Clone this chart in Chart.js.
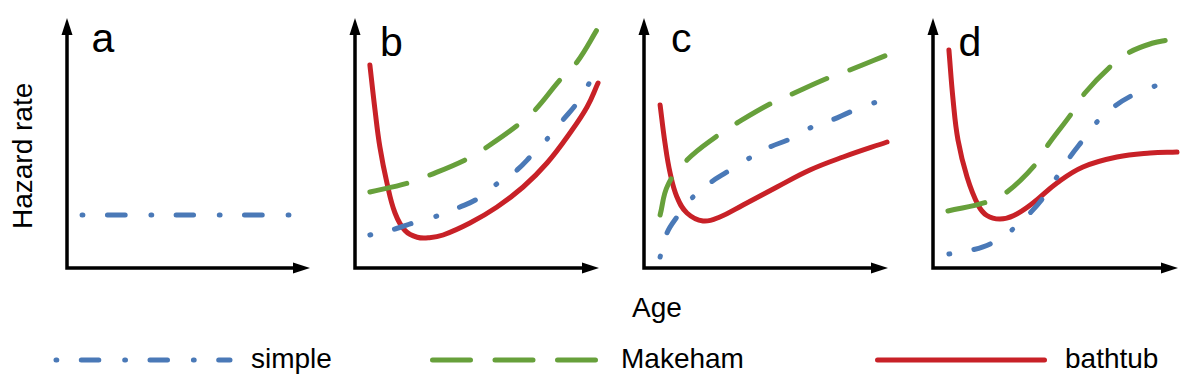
<!DOCTYPE html>
<html><head><meta charset="utf-8">
<script src="https://cdn.jsdelivr.net/npm/chart.js@4.4.1/dist/chart.umd.min.js"></script>
<style>
html,body{margin:0;padding:0;background:#fff;}
body{width:1200px;height:375px;position:relative;overflow:hidden;font-family:"Liberation Sans",Arial,sans-serif;}
.t{position:absolute;line-height:1;white-space:nowrap;color:#000;}
canvas{position:absolute;}
</style></head><body>
<div class="t" style="font-size:28px;left:9.3px;top:229px;transform:rotate(-90deg);transform-origin:0 0;">Hazard rate</div>
<div class="t" style="font-size:28px;left:632px;top:294.3px;">Age</div>
<div id="labels"></div>
<div id="legendText"></div>
<canvas id="ca" width="267" height="274"></canvas>
<canvas id="cb" width="268" height="274"></canvas>
<canvas id="cc" width="268" height="274"></canvas>
<canvas id="cd" width="269" height="274"></canvas>
<canvas id="leg" width="1200" height="30" style="left:0;top:345px;"></canvas>
<script>
// ---- data (x: age 0-100, y: hazard 0-100) ----
const panelLabels = ['a', 'b', 'c', 'd'];
const seriesNames = ['simple', 'Makeham', 'bathtub'];

const aSimpleX = [6.2, 91.8];
const aSimpleY = [21.2, 21.2];

const bSimpleX = [6.1, 16.4, 23.8, 33.6, 43.0, 50.0, 58.6, 66.4, 72.5, 79.1, 85.2, 91.0, 96.3];
const bSimpleY = [13.2, 15.6, 18.0, 20.8, 24.4, 27.6, 34.0, 39.2, 45.2, 52.0, 59.2, 66.0, 74.4];
const bMakehamX = [6.1, 21.7, 30.7, 45.9, 54.1, 66.8, 73.8, 84.0, 91.0, 99.6];
const bMakehamY = [30.4, 34.0, 37.2, 43.6, 48.4, 57.2, 63.2, 75.2, 82.4, 96.0];
const bBathtubX = [6.1, 8.2, 10.2, 13.1, 16.4, 20.5, 25.5, 30.5, 36.1, 47.1, 58.2, 68.9, 78.7, 88.1, 95.1, 99.6];
const bBathtubY = [81.2, 63.2, 48.4, 34.0, 22.0, 15.0, 12.3, 12.1, 13.2, 18.0, 24.4, 32.4, 42.0, 54.0, 64.4, 74.0];

const cSimpleX = [6.6, 9.4, 13.5, 19.7, 27.0, 34.0, 42.6, 51.6, 59.8, 68.0, 77.0, 84.4, 94.6];
const cSimpleY = [4.4, 14.0, 20.4, 28.0, 34.0, 38.4, 43.6, 48.4, 51.6, 56.0, 59.2, 62.4, 66.2];
const cMakehamX = [6.6, 9.8, 17.6, 29.9, 38.1, 51.6, 60.7, 75.4, 84.4, 99.6];
const cMakehamY = [21.2, 33.2, 43.2, 52.8, 58.0, 65.6, 69.6, 76.0, 79.2, 85.2];
const cBathtubX = [6.6, 8.6, 10.7, 13.5, 17.6, 24.2, 31.1, 40.6, 54.5, 68.0, 81.6, 99.6];
const cBathtubY = [65.2, 50.0, 38.0, 28.4, 22.0, 18.8, 20.4, 25.2, 32.4, 39.2, 44.4, 50.4];

const dSimpleX = [6.5, 15.9, 24.1, 32.7, 39.6, 44.9, 50.6, 55.9, 61.2, 66.9, 74.3, 81.6, 90.6];
const dSimpleY = [5.6, 7.2, 10.0, 15.6, 22.0, 28.0, 36.4, 44.4, 51.2, 58.4, 64.8, 69.2, 72.8];
const dMakehamX = [6.1, 22.0, 30.2, 41.6, 46.9, 56.7, 62.0, 73.1, 80.4, 89.8, 95.9];
const dMakehamY = [22.8, 26.4, 30.4, 41.2, 49.2, 62.0, 70.0, 81.2, 86.4, 90.0, 91.2];
const dBathtubX = [6.5, 8.2, 10.2, 13.9, 18.4, 22.0, 27.3, 33.0, 40.8, 50.6, 61.2, 75.1, 88.6, 99.6];
const dBathtubY = [87.2, 67.2, 51.2, 36.4, 25.2, 21.0, 19.6, 21.0, 26.0, 34.0, 40.4, 44.4, 46.0, 46.4];

// ---- styles ----
const COLORS = ['#4a79b7', '#67a03b', '#c82127'];
const DASHES = [[0.8, 24.5, 17.5, 25.9], [38, 24.5], []];
const LW = 5;
const PAD = 12;

const panels = [
  {id: 'ca', axisX: 67, width: 243, label: {left: 91.5, top: 18.3},
   series: [[aSimpleX, aSimpleY]]},
  {id: 'cb', axisX: 355, width: 244, label: {left: 380, top: 22.3},
   series: [[bSimpleX, bSimpleY], [bMakehamX, bMakehamY], [bBathtubX, bBathtubY]]},
  {id: 'cc', axisX: 644, width: 244, label: {left: 671, top: 18.3},
   series: [[cSimpleX, cSimpleY], [cMakehamX, cMakehamY], [cBathtubX, cBathtubY]]},
  {id: 'cd', axisX: 933, width: 245, label: {left: 958.5, top: 22.3},
   series: [[dSimpleX, dSimpleY], [dMakehamX, dMakehamY], [dBathtubX, dBathtubY]]}
];
const AXIS_TOP = 18, AXIS_BOTTOM = 268;

const arrowAxes = {
  id: 'arrowAxes',
  beforeDatasetsDraw(chart) {
    const {ctx, chartArea: a} = chart;
    const L = 17, H = 5.5;
    ctx.save();
    ctx.strokeStyle = '#000';
    ctx.fillStyle = '#000';
    ctx.lineWidth = 3.5;
    ctx.lineJoin = 'miter';
    ctx.lineCap = 'butt';
    ctx.beginPath();
    ctx.moveTo(a.left, a.top + L - 2);
    ctx.lineTo(a.left, a.bottom);
    ctx.lineTo(a.right - L + 2, a.bottom);
    ctx.stroke();
    ctx.beginPath();
    ctx.moveTo(a.left, a.top);
    ctx.lineTo(a.left - H, a.top + L);
    ctx.lineTo(a.left + H, a.top + L);
    ctx.closePath();
    ctx.fill();
    ctx.beginPath();
    ctx.moveTo(a.right, a.bottom);
    ctx.lineTo(a.right - L, a.bottom - H);
    ctx.lineTo(a.right - L, a.bottom + H);
    ctx.closePath();
    ctx.fill();
    ctx.restore();
  }
};

const labelsDiv = document.getElementById('labels');
panels.forEach((p, pi) => {
  const cv = document.getElementById(p.id);
  cv.style.left = (p.axisX - PAD) + 'px';
  cv.style.top = (AXIS_TOP - PAD) + 'px';
  cv.width = p.width + 2 * PAD;
  cv.height = (AXIS_BOTTOM - AXIS_TOP) + 2 * PAD;

  const lab = document.createElement('div');
  lab.className = 't';
  lab.style.fontSize = '41px';
  lab.style.left = p.label.left + 'px';
  lab.style.top = p.label.top + 'px';
  lab.textContent = panelLabels[pi];
  labelsDiv.appendChild(lab);

  const datasets = p.series.map((s, si) => ({
    label: seriesNames[si],
    data: s[0].map((x, i) => ({x: x, y: s[1][i]})),
    borderColor: COLORS[si],
    borderWidth: LW,
    borderDash: DASHES[si],
    borderCapStyle: 'round',
    borderJoinStyle: 'round',
    pointRadius: 0,
    fill: false,
    tension: 0.4,
    clip: false
  }));
  new Chart(cv, {
    type: 'line',
    data: {datasets: datasets},
    options: {
      responsive: false,
      animation: false,
      events: [],
      layout: {padding: PAD},
      plugins: {legend: {display: false}, tooltip: {enabled: false}},
      scales: {
        x: {type: 'linear', min: 0, max: 100, display: false},
        y: {type: 'linear', min: 0, max: 100, display: false}
      }
    },
    plugins: [arrowAxes]
  });
});

// ---- legend ----
const legendItems = [
  {x0: 56, x1: 230, textLeft: 251},
  {x0: 432.5, x1: 595.5, textLeft: 621},
  {x0: 877.5, x1: 1044.5, textLeft: 1065}
];
const lc = document.getElementById('leg').getContext('2d');
const lt = document.getElementById('legendText');
legendItems.forEach((it, i) => {
  lc.save();
  lc.strokeStyle = COLORS[i];
  lc.lineWidth = LW;
  lc.lineCap = 'round';
  lc.setLineDash(DASHES[i]);
  lc.beginPath();
  lc.moveTo(it.x0, 15);
  lc.lineTo(it.x1, 15);
  lc.stroke();
  lc.restore();
  const d = document.createElement('div');
  d.className = 't';
  d.style.fontSize = '28px';
  d.style.left = it.textLeft + 'px';
  d.style.top = '345.3px';
  d.textContent = seriesNames[i];
  lt.appendChild(d);
});
</script>
</body></html>
